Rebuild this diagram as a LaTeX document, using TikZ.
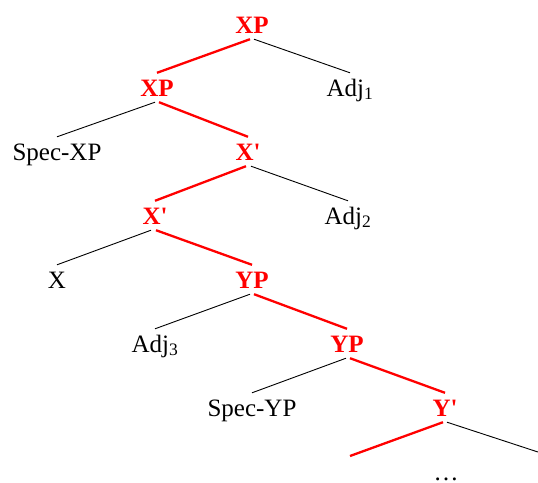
\documentclass[tikz,border=0pt]{standalone}
\usepackage{fontspec}
\setmainfont{Liberation Serif}
\definecolor{hred}{RGB}{255,0,0}
\begin{document}
\begin{tikzpicture}[x=1pt,y=-1pt,
  lbl/.style={anchor=base,font=\fontsize{25}{30}\selectfont,
    text height=22pt,text depth=5pt,inner xsep=0pt,inner ysep=1pt},
  head/.style={lbl,text=hred,font=\fontsize{25}{30}\selectfont\bfseries},
  spine/.style={draw=hred,line width=2.3pt},
  side/.style={draw=black,line width=0.9pt}]
\useasboundingbox (0,0) rectangle (538,482);
% labels (placed on their baselines)
\node[head] (xp0) at (252,33) {XP};
\node[head] (xp1) at (157,96) {XP};
\node[lbl]  (adj1) at (350,96) {Adj\textsubscript{1}};
\node[lbl]  (specx) at (57,160) {Spec-XP};
\node[head] (xb0) at (248,160) {X\textquotesingle};
\node[head] (xb1) at (155,224) {X\textquotesingle};
\node[lbl]  (adj2) at (348,224) {Adj\textsubscript{2}};
\node[lbl]  (x) at (57,288) {X};
\node[head] (yp0) at (252,288) {YP};
\node[lbl]  (adj3) at (155,352) {Adj\textsubscript{3}};
\node[head] (yp1) at (347,352) {YP};
\node[lbl]  (specy) at (252,416) {Spec-YP};
\node[head] (yb) at (445,416) {Y\textquotesingle};
\node[lbl,text height=5pt,text depth=0pt,inner ysep=0pt] (dots) at (446,480) {\ldots};
\coordinate (yl) at (350,456);
\coordinate (yr) at (541,453);
% branches
\draw[spine] ([xshift=-2pt]xp0.south) -- (xp1.north);
\draw[side]  ([xshift=2pt]xp0.south) -- (adj1.north);
\draw[side]  ([xshift=-2pt]xp1.south) -- (specx.north);
\draw[spine] ([xshift=2pt]xp1.south) -- (xb0.north);
\draw[spine] ([xshift=-2pt]xb0.south) -- (xb1.north);
\draw[side]  ([xshift=3pt]xb0.south) -- (adj2.north);
\draw[side]  ([xshift=-4pt]xb1.south) -- (x.north);
\draw[spine] ([xshift=1pt]xb1.south) -- (yp0.north);
\draw[side]  ([xshift=-2pt]yp0.south) -- (adj3.north);
\draw[spine] ([xshift=2pt]yp0.south) -- (yp1.north);
\draw[side]  ([xshift=-1pt]yp1.south) -- (specy.north);
\draw[spine] ([xshift=3pt]yp1.south) -- (yb.north);
\draw[spine] ([xshift=-2pt]yb.south) -- (yl);
\draw[side]  ([xshift=2pt]yb.south) -- (yr);
\end{tikzpicture}
\end{document}
